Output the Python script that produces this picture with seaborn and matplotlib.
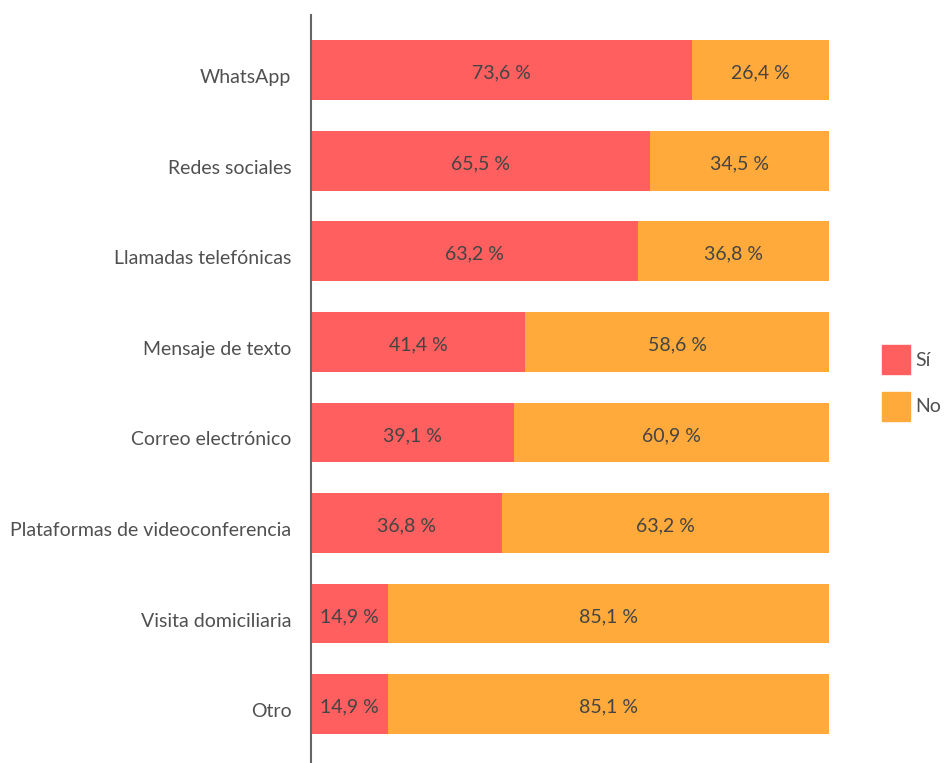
import pandas as pd
import numpy as np
import matplotlib.pyplot as plt
import matplotlib.transforms as mtransforms
import seaborn as sns
from matplotlib.patches import Patch

sns.set_theme(style="white")
plt.rcParams['font.family'] = ['Lato', 'DejaVu Sans']

# Datos
canales = ['WhatsApp', 'Redes sociales', 'Llamadas telefónicas', 'Mensaje de texto',
           'Correo electrónico', 'Plataformas de videoconferencia', 'Visita domiciliaria', 'Otro']
si = [73.6, 65.5, 63.2, 41.4, 39.1, 36.8, 14.9, 14.9]
no = [26.4, 34.5, 36.8, 58.6, 60.9, 63.2, 85.1, 85.1]

df = pd.DataFrame({'canal': canales, 'si': si, 'no': no})
df['total'] = df['si'] + df['no']

rojo = '#FF5F5F'
naranja = '#FFAA3A'
texto = '#505050'

fig = plt.figure(figsize=(9.44, 7.63), dpi=100)
ax = fig.add_axes([311 / 944, 0, (829 - 311) / 944, (763 - 15) / 763])

sns.barplot(data=df, x='total', y='canal', color=naranja, width=0.66,
            saturation=1, ax=ax, orient='h', linewidth=0)
sns.barplot(data=df, x='si', y='canal', color=rojo, width=0.66,
            saturation=1, ax=ax, orient='h', linewidth=0)

def fmt(v):
    return f'{v:.1f}'.replace('.', ',') + ' %'

# etiquetas un poco por debajo del centro, como en el original
bajar = mtransforms.ScaledTranslation(0, -3 / 100, fig.dpi_scale_trans)
for i, row in df.iterrows():
    ax.text(row['si'] / 2, i, fmt(row['si']), ha='center', va='center',
            fontsize=14, color='#444444', transform=ax.transData + bajar)
    ax.text(row['si'] + row['no'] / 2, i, fmt(row['no']), ha='center', va='center',
            fontsize=14, color='#444444', transform=ax.transData + bajar)

ax.set_xlim(0, 100)
ax.set_ylim(7.65, -0.61)
ax.set_xlabel('')
ax.set_ylabel('')
ax.set_xticks([])
ax.tick_params(axis='y', length=0, pad=14, labelsize=14, labelcolor=texto)
bajar_ticks = mtransforms.ScaledTranslation(0, -6 / 100, fig.dpi_scale_trans)
for lab in ax.get_yticklabels():
    lab.set_transform(lab.get_transform() + bajar_ticks)
for s in ['top', 'right', 'bottom']:
    ax.spines[s].set_visible(False)
ax.spines['left'].set_color('#666666')
ax.spines['left'].set_linewidth(1.5)

handles = [Patch(color=rojo, label='Sí'), Patch(color=naranja, label='No')]
fig.legend(handles=handles, loc='center left', bbox_to_anchor=(864 / 944, 1 - 383 / 763),
           frameon=False, prop={'size': 14}, labelcolor=texto,
           handlelength=1.45, handleheight=1.9, handletextpad=0.3, labelspacing=0.9)

fig.savefig('out.png', dpi=100)
